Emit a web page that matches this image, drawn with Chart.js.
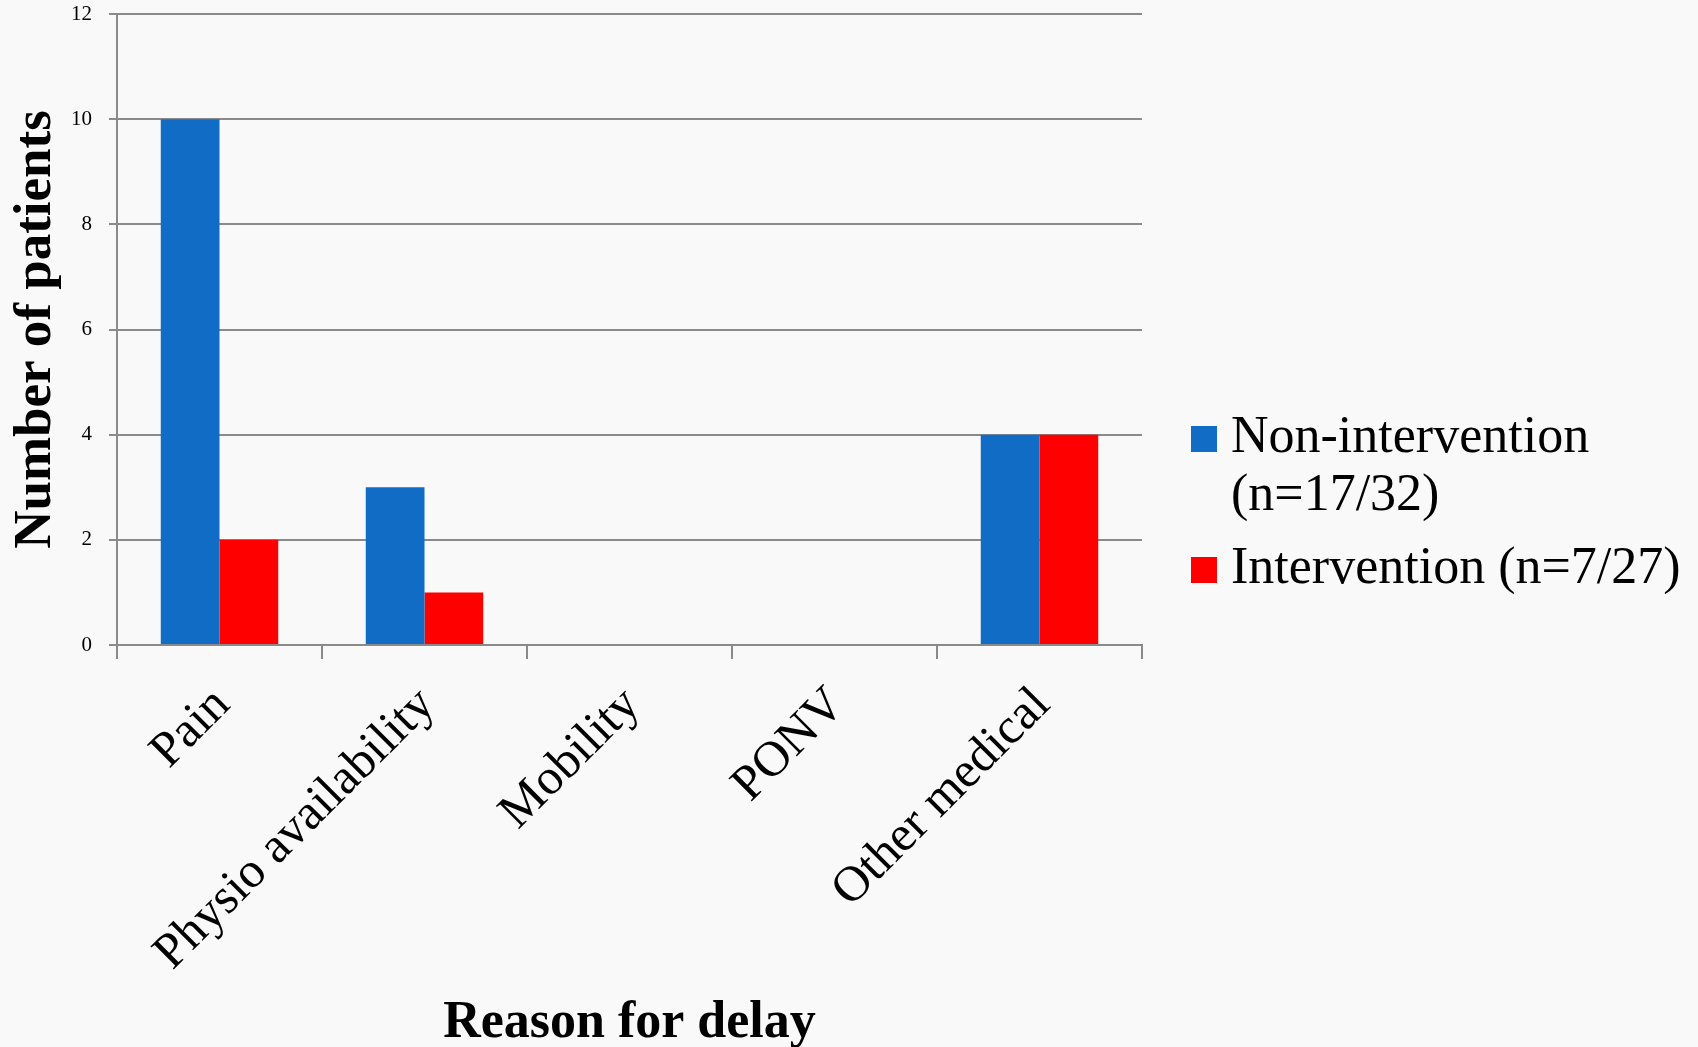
<!DOCTYPE html>
<html>
<head>
<meta charset="utf-8">
<title>Reason for delay</title>
<script src="https://cdn.jsdelivr.net/npm/chart.js@4/dist/chart.umd.min.js"></script>
<style>
  html, body { margin: 0; padding: 0; background: #f9f9f9; }
  #wrap { position: relative; width: 1698px; height: 1047px; }
</style>
</head>
<body>
<div id="wrap"><canvas id="c"></canvas></div>
<script>
// Delay reasons and patient counts per group
const categories = ['Pain', 'Physio availability', 'Mobility', 'PONV', 'Other medical'];
const nonIntervention = [10, 3, 0, 0, 4];
const intervention = [2, 1, 0, 0, 4];
const seriesLines = [['Non-intervention', '(n=17/32)'], ['Intervention (n=7/27)']];
const yMin = 0, yMax = 12, yStep = 2;

const BLUE = '#116cc5';
const RED = '#ff0000';
const GRID = '#8a8a8a';
const SERIF = '"Liberation Serif", "DejaVu Serif", serif';

// Legend drawn to the right of the plot, with wrapped labels
const sideLegend = {
  id: 'sideLegend',
  afterDraw(chart) {
    const ctx = chart.ctx;
    const area = chart.chartArea;
    const boxX = area.right + 49;
    const textX = area.right + 89;
    const lineGap = 58;
    const entryGap = 73;
    let baseline = area.top + 438;
    ctx.save();
    ctx.font = '52px ' + SERIF;
    ctx.textBaseline = 'alphabetic';
    ctx.textAlign = 'left';
    chart.data.datasets.forEach((ds, i) => {
      const lines = seriesLines[i];
      ctx.fillStyle = ds.backgroundColor;
      ctx.fillRect(boxX, baseline - 26, 26, 26);
      ctx.fillStyle = '#000';
      lines.forEach((ln, j) => {
        ctx.fillText(ln, textX, baseline + j * lineGap);
      });
      baseline += (lines.length - 1) * lineGap + entryGap;
    });
    ctx.restore();
  }
};

new Chart(document.getElementById('c'), {
  type: 'bar',
  data: {
    labels: categories,
    datasets: [
      { label: seriesLines[0].join(' '), data: nonIntervention, backgroundColor: BLUE, borderWidth: 0 },
      { label: seriesLines[1].join(' '), data: intervention, backgroundColor: RED, borderWidth: 0 }
    ]
  },
  options: {
    responsive: true,
    maintainAspectRatio: false,
    animation: false,
    datasets: { bar: { categoryPercentage: 0.573, barPercentage: 1.0 } },
    layout: { padding: { left: 0, top: 14, right: 556, bottom: 0 } },
    plugins: {
      legend: { display: false },
      tooltip: { enabled: false }
    },
    scales: {
      x: {
        afterFit(scale) {
          scale.height = 402;
          scale.paddingLeft = 0;
          scale.paddingRight = 0;
        },
        grid: {
          display: true, drawOnChartArea: false, drawTicks: true,
          tickLength: 14, color: GRID, lineWidth: 2, offset: true
        },
        border: { display: true, color: GRID, width: 2 },
        ticks: {
          color: '#000',
          font: { family: SERIF, size: 50, lineHeight: 1.2 },
          minRotation: 45, maxRotation: 45,
          autoSkip: false,
          padding: 17,
          labelOffset: 3
        },
        title: {
          display: true,
          text: 'Reason for delay',
          color: '#000',
          font: { family: SERIF, size: 52, weight: 'bold', lineHeight: 1 },
          padding: { top: 0, bottom: -3 }
        }
      },
      y: {
        min: yMin, max: yMax,
        afterFit(scale) {
          scale.width = 117;
          scale.paddingTop = 0;
          scale.paddingBottom = 0;
        },
        grid: { color: GRID, lineWidth: 2, tickLength: 8, drawTicks: true },
        border: { display: true, color: GRID, width: 2 },
        ticks: {
          stepSize: yStep,
          color: '#000',
          font: { family: SERIF, size: 21 },
          padding: 17
        },
        title: {
          display: true,
          text: 'Number of patients',
          color: '#000',
          font: { family: SERIF, size: 53, weight: 'bold', lineHeight: 1 },
          padding: { top: 10, bottom: 0 }
        }
      }
    }
  },
  plugins: [sideLegend]
});
</script>
</body>
</html>
